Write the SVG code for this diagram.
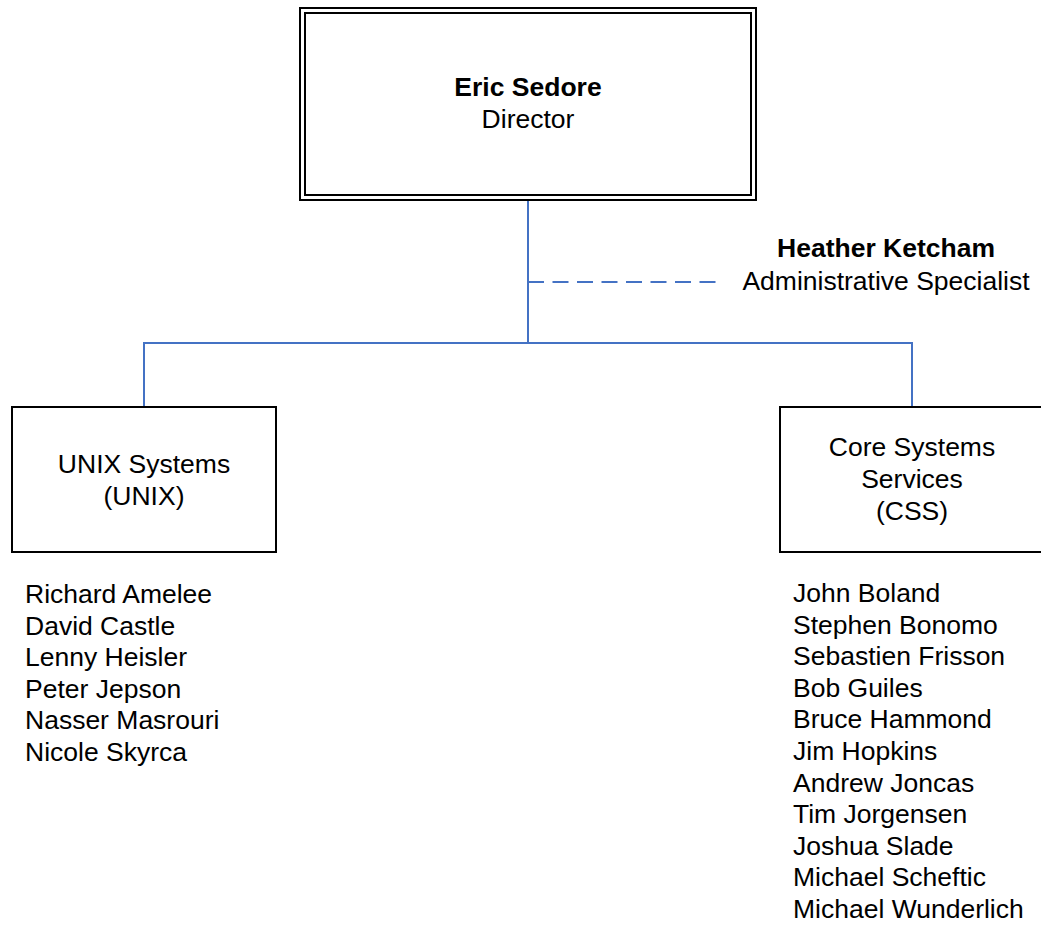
<svg xmlns="http://www.w3.org/2000/svg" width="1041" height="925" viewBox="0 0 1041 925">
<style>
text{font-family:"Liberation Sans",Arial,sans-serif;font-size:26.5px;fill:#000}
.b{font-weight:bold}
.c{text-anchor:middle}
.box{fill:#fff;stroke:#000;stroke-width:2}
.ln{fill:none;stroke:#4472C4;stroke-width:2}
</style>
<rect width="1041" height="925" fill="#fff"/>
<g id="connectors">
<path class="ln" d="M528 200V343M144 408V343H912V408"/>
<path class="ln" d="M528 282H716" stroke-dasharray="16 8.5"/>
</g>
<g id="director">
<rect class="box" x="300" y="8" width="456" height="192" stroke-width="2.5"/>
<rect class="box" x="305" y="13" width="446" height="182" stroke-width="1.8"/>
<text class="c b" x="528" y="96">Eric Sedore</text>
<text class="c" x="528" y="128">Director</text>
</g>
<g id="admin">
<text class="c b" x="886" y="257">Heather Ketcham</text>
<text class="c" x="886" y="290">Administrative Specialist</text>
</g>
<g id="unix">
<rect class="box" x="12" y="407" width="264" height="145"/>
<text class="c" x="144" y="473">UNIX Systems</text>
<text class="c" x="144" y="505">(UNIX)</text>
</g>
<g id="css">
<rect class="box" x="780" y="407" width="264" height="145"/>
<text class="c" x="912" y="456">Core Systems</text>
<text class="c" x="912" y="488">Services</text>
<text class="c" x="912" y="520">(CSS)</text>
</g>
<g id="unix-members">
<text x="25" y="603">Richard Amelee</text>
<text x="25" y="634.5">David Castle</text>
<text x="25" y="666">Lenny Heisler</text>
<text x="25" y="697.5">Peter Jepson</text>
<text x="25" y="729">Nasser Masrouri</text>
<text x="25" y="760.5">Nicole Skyrca</text>
</g>
<g id="css-members">
<text x="793" y="602">John Boland</text>
<text x="793" y="633.6">Stephen Bonomo</text>
<text x="793" y="665.2">Sebastien Frisson</text>
<text x="793" y="696.8">Bob Guiles</text>
<text x="793" y="728.4">Bruce Hammond</text>
<text x="793" y="760">Jim Hopkins</text>
<text x="793" y="791.6">Andrew Joncas</text>
<text x="793" y="823.2">Tim Jorgensen</text>
<text x="793" y="854.8">Joshua Slade</text>
<text x="793" y="886.4">Michael Scheftic</text>
<text x="793" y="918">Michael Wunderlich</text>
</g>
</svg>
